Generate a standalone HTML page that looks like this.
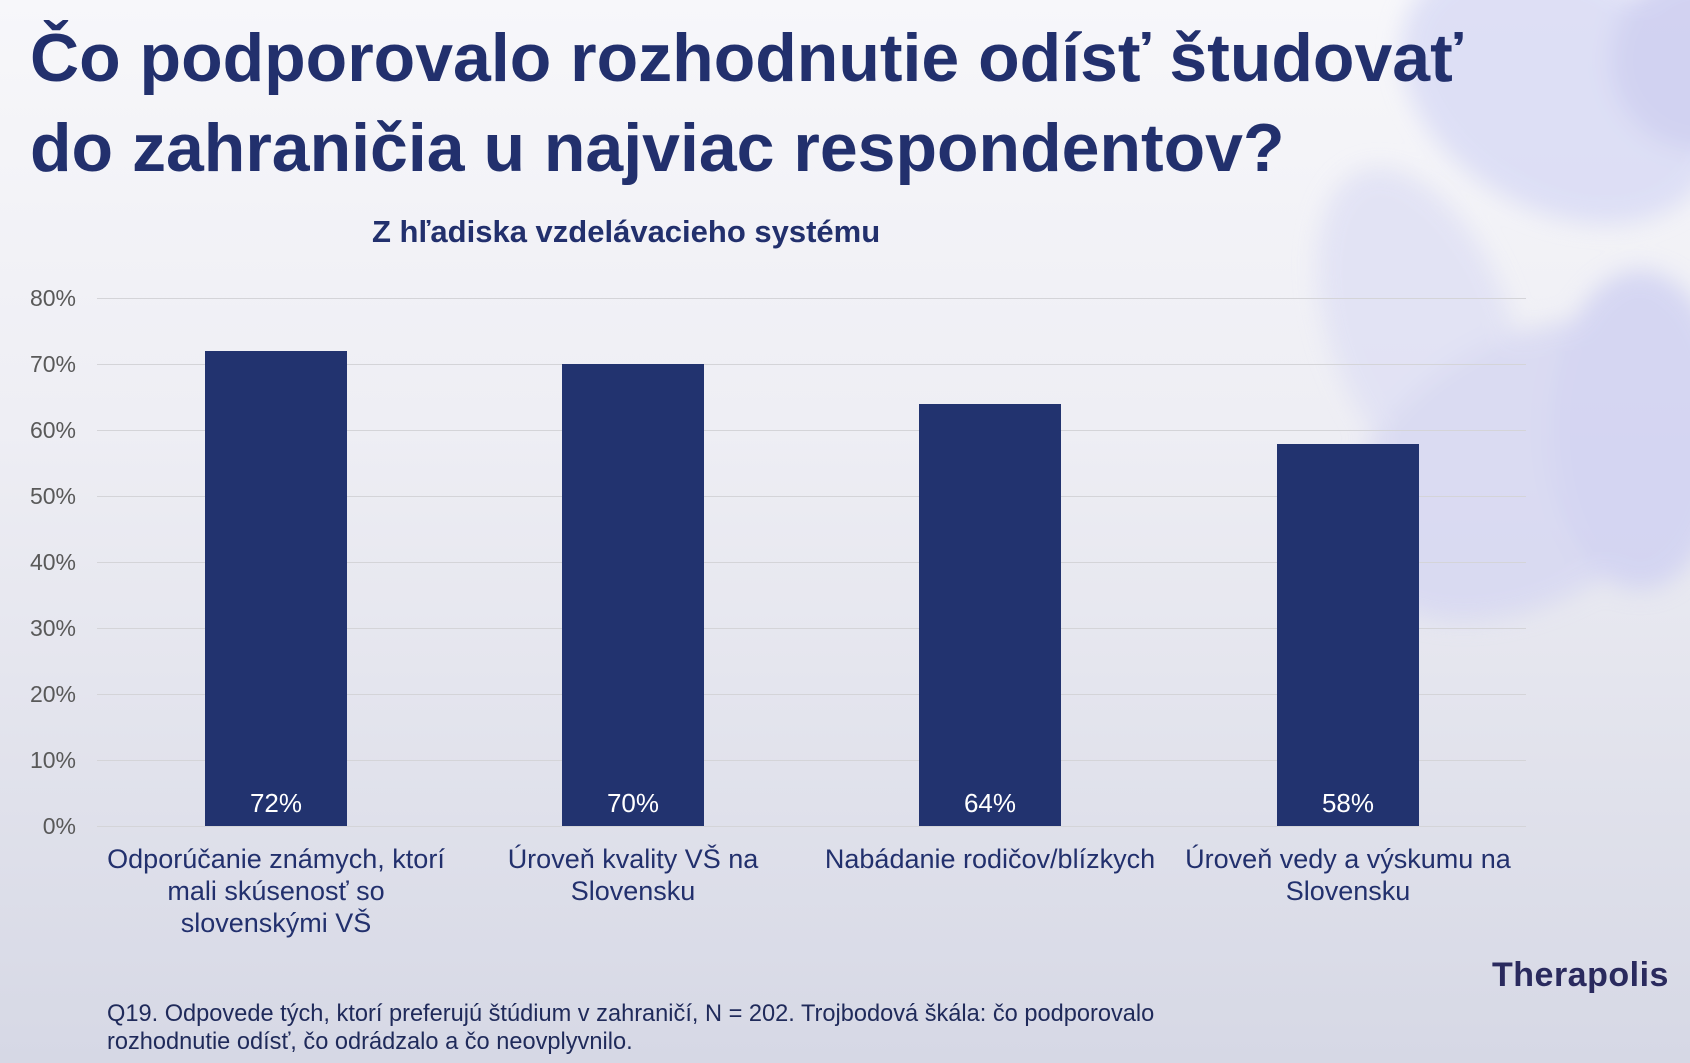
<!DOCTYPE html>
<html><head><meta charset="utf-8"><style>
*{margin:0;padding:0}
body{width:1690px;height:1063px;overflow:hidden;position:relative;font-family:"Liberation Sans",sans-serif;background:linear-gradient(180deg,#f7f7fa 0%,#eeeef4 40%,#d6d8e5 100%)}
.a{position:absolute;white-space:nowrap}
.t{left:30px;font-weight:bold;font-size:68px;color:#22306d;line-height:1}
.y{right:1614px;font-size:23px;color:#595959;text-align:right;width:80px}
.g{left:97px;width:1429px;height:1px;background:#d4d4d8}
.b{background:#22336f;width:142px}
.v{color:#fff;font-size:26px;width:142px;text-align:center}
.c{font-size:27px;color:#22306d;text-align:center;line-height:32px;width:400px}
</style></head><body>
<svg class="a" style="left:0;top:0" width="1690" height="1063">
<defs><filter id="f" x="-50%" y="-50%" width="200%" height="200%"><feGaussianBlur stdDeviation="12"/></filter></defs>
<g filter="url(#f)" opacity="0.8">
<ellipse cx="1560" cy="90" rx="170" ry="120" fill="#d8daf5" transform="rotate(30 1560 90)"/>
<ellipse cx="1420" cy="330" rx="90" ry="170" fill="#dfe0f4" transform="rotate(-20 1420 330)"/>
<ellipse cx="1530" cy="470" rx="200" ry="130" fill="#d6d7f2" transform="rotate(-30 1530 470)"/>
<ellipse cx="1640" cy="430" rx="90" ry="160" fill="#cfd0f2"/>
<ellipse cx="1700" cy="60" rx="90" ry="90" fill="#c9caf0"/>
</g>
</svg>
<div class="a t" style="top:24px">Čo podporovalo rozhodnutie odísť študovať</div>
<div class="a t" style="top:114px">do zahraničia u najviac respondentov?</div>
<div class="a" style="left:372px;top:214px;font-size:31px;font-weight:bold;color:#22306d">Z hľadiska vzdelávacieho systému</div>

<div class="a g" style="top:298px"></div>
<div class="a g" style="top:364px"></div>
<div class="a g" style="top:430px"></div>
<div class="a g" style="top:496px"></div>
<div class="a g" style="top:562px"></div>
<div class="a g" style="top:628px"></div>
<div class="a g" style="top:694px"></div>
<div class="a g" style="top:760px"></div>
<div class="a g" style="top:826px"></div>

<div class="a y" style="top:285px">80%</div>
<div class="a y" style="top:351px">70%</div>
<div class="a y" style="top:417px">60%</div>
<div class="a y" style="top:483px">50%</div>
<div class="a y" style="top:549px">40%</div>
<div class="a y" style="top:615px">30%</div>
<div class="a y" style="top:681px">20%</div>
<div class="a y" style="top:747px">10%</div>
<div class="a y" style="top:813px">0%</div>

<div class="a b" style="left:205px;top:351px;height:475px"></div>
<div class="a b" style="left:562px;top:364px;height:462px"></div>
<div class="a b" style="left:919px;top:404px;height:422px"></div>
<div class="a b" style="left:1277px;top:444px;height:382px"></div>
<div class="a v" style="left:205px;top:788px">72%</div>
<div class="a v" style="left:562px;top:788px">70%</div>
<div class="a v" style="left:919px;top:788px">64%</div>
<div class="a v" style="left:1277px;top:788px">58%</div>

<div class="a c" style="left:76px;top:843px">Odporúčanie známych, ktorí<br>mali skúsenosť so<br>slovenskými VŠ</div>
<div class="a c" style="left:433px;top:843px">Úroveň kvality VŠ na<br>Slovensku</div>
<div class="a c" style="left:790px;top:843px">Nabádanie rodičov/blízkych</div>
<div class="a c" style="left:1148px;top:843px">Úroveň vedy a výskumu na<br>Slovensku</div>

<div class="a" style="left:1492px;top:956px;font-size:34px;font-weight:bold;color:#2a2a5e;letter-spacing:0.5px">Therapolis</div>
<div class="a" style="left:107px;top:1000px;font-size:23.6px;color:#1f2a5a;line-height:28px">Q19. Odpovede tých, ktorí preferujú štúdium v zahraničí, N = 202. Trojbodová škála: čo podporovalo<br>rozhodnutie odísť, čo odrádzalo a čo neovplyvnilo.</div>
</body></html>
